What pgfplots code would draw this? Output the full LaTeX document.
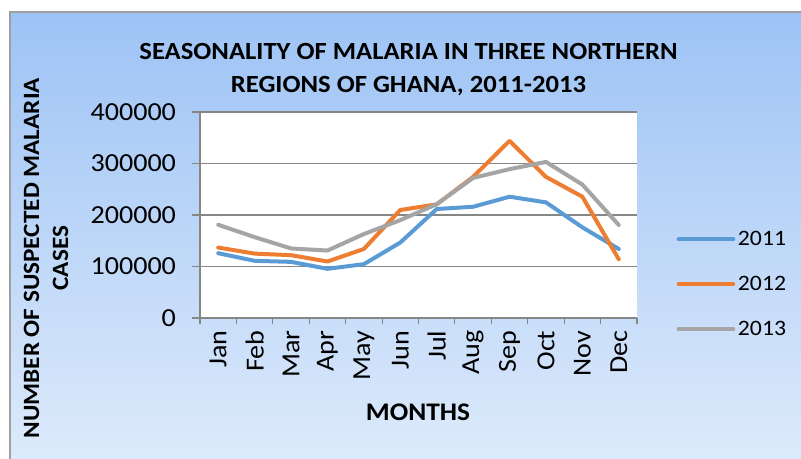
\documentclass[border=0pt]{standalone}
\usepackage{fontspec}
\setmainfont{Carlito}[FakeStretch=1.08]
\usepackage{pgfplots}
\pgfplotsset{compat=1.18}
\definecolor{bgtop}{RGB}{157,195,245}
\definecolor{bgbot}{RGB}{221,234,251}
\definecolor{s11}{RGB}{91,155,213}
\definecolor{s12}{RGB}{237,125,49}
\definecolor{s13}{RGB}{165,165,165}
\definecolor{axgray}{RGB}{134,134,134}
\begin{document}
\begin{tikzpicture}[x=0.75pt,y=0.75pt]
\path[use as bounding box] (0,0) rectangle (801,459);
\shade[top color=bgtop, bottom color=bgbot] (10,0) rectangle (801,447);
\draw[gray!75, line width=1.1pt] (10,0) -- (10,447) -- (801,447);
\begin{axis}[
  at={(150pt,105.75pt)}, anchor=south west,
  scale only axis, width=327.75pt, height=154.5pt,
  axis background/.style={fill=white},
  axis x line*=bottom, axis y line*=left,
  axis line style={axgray, line width=0.8pt},
  xmin=0.5, xmax=12.5, ymin=0, ymax=400000,
  xtick={1,...,12},
  xticklabels={Jan,Feb,Mar,Apr,May,Jun,Jul,Aug,Sep,Oct,Nov,Dec},
  minor xtick={0.5,1.5,...,12.5},
  major x tick style={draw=none},
  minor x tick style={axgray, line width=0.8pt},
  ytick={0,100000,...,400000},
  y tick style={axgray, line width=0.8pt},
  tick align=outside,
  major tick length=6pt, minor tick length=4.5pt,
  ymajorgrids, major grid style={axgray, line width=0.8pt},
  scaled y ticks=false,
  yticklabel style={/pgf/number format/fixed, /pgf/number format/1000 sep={}, /pgf/number format/assume math mode=true, font=\fontsize{19.5pt}{22pt}\selectfont, xshift=-8.5pt},
  xticklabel style={rotate=90, anchor=east, font=\fontsize{19.5pt}{22pt}\selectfont},
  title={SEASONALITY OF MALARIA IN THREE NORTHERN\\REGIONS OF GHANA, 2011-2013},
  title style={at={(axis description cs:0.477,1.168)}, anchor=center, align=center, font=\bfseries\fontsize{18.5pt}{25pt}\selectfont},
  xlabel={MONTHS},
  xlabel style={at={(axis description cs:0.499,-0.46)}, anchor=center, font=\bfseries\fontsize{19pt}{22pt}\selectfont},
  ylabel={NUMBER OF SUSPECTED MALARIA\\CASES},
  ylabel style={at={(axis description cs:-0.352,0.29)}, anchor=center, rotate=0, align=center, font=\bfseries\fontsize{17.5pt}{21.75pt}\selectfont},
  legend style={at={(1.09,0.165)}, anchor=west, draw=none, fill=none, font=\fontsize{16.5pt}{20pt}\selectfont, row sep=17.5pt, inner sep=0pt},
  legend cell align=left,
  legend image code/.code={\draw[#1, line cap=round] (0pt,0pt) -- (41pt,0pt);},
  every axis plot/.append style={line width=3pt, line cap=round, line join=round},
]
\addplot[s11] coordinates {(1,125800) (2,111000) (3,109000) (4,95500) (5,104500) (6,146500) (7,211600) (8,216000) (9,235500) (10,224500) (11,176000) (12,134000)};
\addplot[s12] coordinates {(1,136800) (2,125000) (3,122000) (4,109700) (5,134000) (6,209700) (7,220600) (8,274000) (9,344000) (10,274000) (11,235500) (12,114000)};
\addplot[s13] coordinates {(1,181000) (2,157000) (3,135000) (4,131000) (5,163000) (6,190000) (7,221000) (8,272000) (9,289000) (10,303000) (11,259000) (12,180600)};
\legend{2011,2012,2013}
\end{axis}
\end{tikzpicture}
\end{document}
